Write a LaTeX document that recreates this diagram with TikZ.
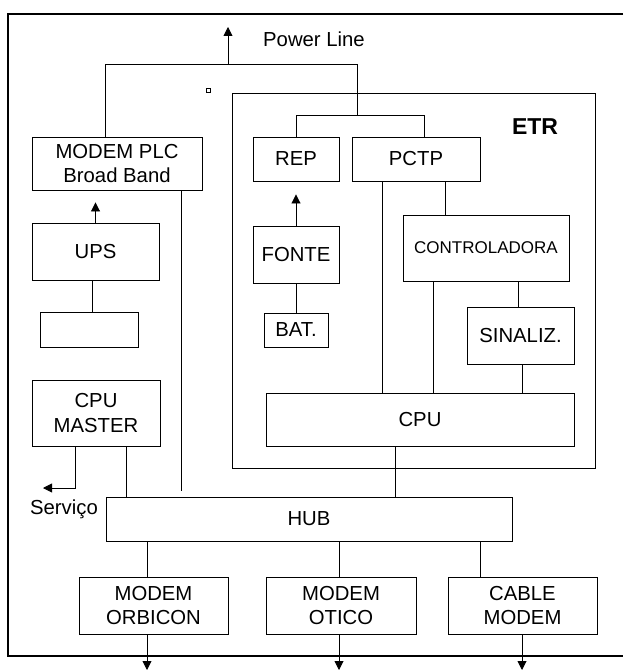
\documentclass[tikz,border=0pt]{standalone}
\usepackage{fontspec}
\setmainfont{Liberation Sans}
\usetikzlibrary{arrows.meta}
\begin{document}
\begin{tikzpicture}[x=1pt,y=-1pt,
  box/.style={draw,line width=0.9pt,inner sep=0pt,align=center,font=\fontsize{20.3}{24.5}\selectfont},
  ln/.style={line width=0.9pt},
  arr/.style={ln,-{Triangle[length=9pt,width=9pt]}},
  lbl/.style={inner sep=0pt,font=\fontsize{20.3}{24.5}\selectfont}]
\useasboundingbox (0,0) rectangle (623,671);
% outer frame
\draw[line width=2pt] (623,14) -- (8,14) -- (8,656) -- (623,656);
% ETR frame
\node[draw,line width=0.9pt,minimum width=363pt,minimum height=375pt,inner sep=0pt] (etr) at (413.5,280.5) {};
\node[inner sep=0pt,font=\fontsize{23}{26}\selectfont\bfseries] (etrl) at (535,127) {ETR};
% boxes
\node[box,minimum width=170pt,minimum height=53pt] (plc) at (117,163.5) {MODEM PLC\\Broad Band};
\node[box,minimum width=127pt,minimum height=57pt] (ups) at (95.5,251.5) {UPS};
\node[box,minimum width=98pt,minimum height=35pt] (empty) at (89,329.5) {};
\node[box,minimum width=128pt,minimum height=66pt] (cpum) at (96,413) {CPU\\MASTER};
\node[box,minimum width=406pt,minimum height=44pt] (hub) at (309,519) {HUB};
\node[box,minimum width=308pt,minimum height=53pt] (cpu) at (420,419.5) {CPU};
\node[box,minimum width=86pt,minimum height=44pt] (rep) at (296,159) {REP};
\node[box,minimum width=128pt,minimum height=44pt] (pctp) at (416,159) {PCTP};
\node[box,minimum width=86pt,minimum height=57pt] (fonte) at (296,254.5) {FONTE};
\node[box,minimum width=64pt,minimum height=34pt] (bat) at (296,330) {BAT.};
\node[box,minimum width=166pt,minimum height=66pt,font=\fontsize{17}{19}\selectfont] (ctrl) at (486,248) {CONTROLADORA};
\node[box,minimum width=107pt,minimum height=57pt] (sin) at (520.5,335.5) {SINALIZ.};
\node[box,minimum width=149pt,minimum height=57pt] (orb) at (153.5,605.5) {MODEM\\ORBICON};
\node[box,minimum width=150pt,minimum height=57pt] (otico) at (341,605.5) {MODEM\\OTICO};
\node[box,minimum width=149pt,minimum height=57pt] (cable) at (522.5,605.5) {CABLE\\MODEM};
\node[draw,line width=0.8pt,minimum size=4pt,inner sep=0pt] (sq) at (208,90) {};
% labels
\node[lbl,anchor=west] (pwl) at (263,39) {Power Line};
\node[lbl] (serv) at (64,509) {Serviço};
% coordinates
\coordinate (t1) at (105,64);
\coordinate (j1) at (357,64);
\coordinate (j2) at (357,115);
\coordinate (j4) at (424,115);
\coordinate (pw) at (228,64);
\coordinate (pwt) at (228,27);
\coordinate (d1) at (181,491);
\coordinate (xa) at (445,0);
\coordinate (xb) at (382,0);
\coordinate (xc) at (433,0);
\coordinate (xd) at (518,0);
\coordinate (xe) at (522,0);
\coordinate (xf) at (395,0);
\coordinate (xg) at (126,0);
\coordinate (xh) at (75,0);
\coordinate (sv) at (43,488);
\coordinate (xi) at (147,0);
\coordinate (xj) at (339,0);
\coordinate (xk) at (480,0);
\coordinate (xl) at (92,0);
\coordinate (bot) at (0,670);
% connectors
\draw[ln] (t1 |- plc.north) -- (t1) -- (j1) -- (j2);
\draw[arr] (pw) -- (pwt);
\draw[ln] (rep.north) |- (j4) -- (j4 |- pctp.north);
\draw[ln] (d1 |- plc.south) -- (d1);
\draw[arr,shorten >=12pt] (ups.north) -- (ups.north |- plc.south);
\draw[ln] (xl |- ups.south) -- (xl |- empty.north);
\draw[arr,shorten >=13pt] (fonte.north) -- (rep.south);
\draw[ln] (fonte.south) -- (bat.north);
\draw[ln] (xa |- pctp.south) -- (xa |- ctrl.north);
\draw[ln] (xb |- pctp.south) -- (xb |- cpu.north);
\draw[ln] (xc |- ctrl.south) -- (xc |- cpu.north);
\draw[ln] (xd |- ctrl.south) -- (xd |- sin.north);
\draw[ln] (xe |- sin.south) -- (xe |- cpu.north);
\draw[ln] (xf |- cpu.south) -- (xf |- hub.north);
\draw[ln] (xg |- cpum.south) -- (xg |- hub.north);
\draw[arr] (xh |- cpum.south) |- (sv);
\draw[ln] (xi |- hub.south) -- (xi |- orb.north);
\draw[ln] (xj |- hub.south) -- (xj |- otico.north);
\draw[ln] (xk |- hub.south) -- (xk |- cable.north);
\draw[arr] (xi |- orb.south) -- (xi |- bot);
\draw[arr] (xj |- otico.south) -- (xj |- bot);
\draw[arr] (xe |- cable.south) -- (xe |- bot);
\end{tikzpicture}
\end{document}
